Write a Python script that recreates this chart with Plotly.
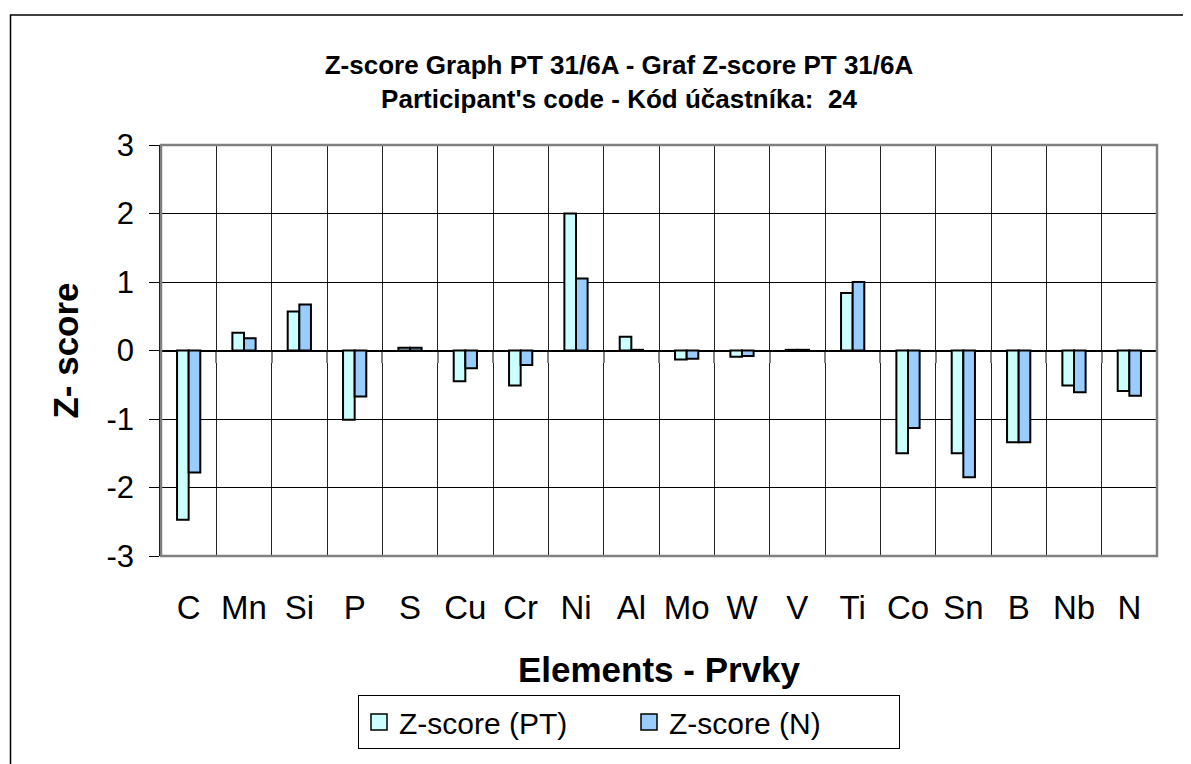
import plotly.graph_objects as go

elements = ["C", "Mn", "Si", "P", "S", "Cu", "Cr", "Ni", "Al", "Mo", "W", "V",
            "Ti", "Co", "Sn", "B", "Nb", "N"]
z_pt = [-2.47, 0.26, 0.57, -1.01, 0.04, -0.45, -0.51, 2.00, 0.20, -0.13, -0.09, 0.01,
        0.84, -1.50, -1.50, -1.34, -0.51, -0.59]
z_n = [-1.78, 0.18, 0.67, -0.67, 0.04, -0.26, -0.21, 1.05, 0.01, -0.12, -0.08, 0.01,
       1.00, -1.13, -1.85, -1.34, -0.61, -0.66]
series_names = ["Z-score (PT)", "Z-score (N)"]
colors = ["#CCFFFF", "#99CCFF"]
y_ticks = [-3, -2, -1, 0, 1, 2, 3]
y_ticktext = ["-3", "-2", "-1", "0", "1", "2", "3"]

FONT = "Liberation Sans, Arial, sans-serif"
OFF = 8  # page body margin
W, H = 1191 - OFF, 764 - OFF
PL, PR, PT_, PB = 161, 1157, 145, 556  # plot area in page pixels
L, R, T, B = PL - OFF, W - (PR - OFF), PT_ - OFF, H - (PB - OFF)
pw, ph = PR - PL, PB - PT_

def px_x(p):
    return (p - PL) / pw

def px_y(p):
    return (PB - p) / ph

fig = go.Figure()
for name, vals, col in zip(series_names, [z_pt, z_n], colors):
    fig.add_trace(go.Bar(x=elements, y=vals, name=name, showlegend=False,
                         marker=dict(color=col, line=dict(color="black", width=2))))
# legend entries (square symbols)
for name, col in zip(series_names, colors):
    fig.add_trace(go.Scatter(x=elements, y=[None] * len(elements), name=name,
                             mode="markers", xaxis="x2",
                             marker=dict(symbol="square", size=17, color=col,
                                         line=dict(color="black", width=1.5))))

fig.update_layout(
    width=W, height=H,
    margin=dict(l=L, r=R, t=T, b=B, autoexpand=False),
    paper_bgcolor="white", plot_bgcolor="white",
    font=dict(family=FONT, color="black"),
    barmode="group", bargap=0.58, bargroupgap=0,
    title=dict(text="Z-score Graph PT 31/6A - Graf Z-score PT 31/6A<br>Participant's code - Kód účastníka:  24",
               font=dict(size=26, weight="bold", family=FONT),
               x=(619 - OFF) / W, xanchor="center", xref="container",
               y=1 - (74 - OFF) / H, yanchor="top", yref="container"),
    xaxis=dict(type="category", categoryorder="array", categoryarray=elements,
               range=[-0.5, len(elements) - 0.5],
               tickson="boundaries", showgrid=True, gridcolor="#222222", gridwidth=1,
               ticks="", showline=False, tickfont=dict(size=33),
               ticklabelstandoff=29,
               title=dict(text="Elements - Prvky", font=dict(size=35, weight="bold"),
                          standoff=32)),
    xaxis2=dict(type="category", categoryorder="array", categoryarray=elements,
                range=[-0.5, len(elements) - 0.5], overlaying="x", anchor="free",
                position=0.5, side="bottom", tickson="boundaries", ticks="outside",
                ticklen=11, tickcolor="#808080", tickwidth=1.5, showticklabels=False,
                showgrid=False, showline=False, zeroline=False),
    yaxis=dict(range=[-3, 3], tickmode="array", tickvals=y_ticks, ticktext=y_ticktext,
               showgrid=True, gridcolor="black",
               gridwidth=1, zeroline=True, zerolinecolor="black", zerolinewidth=1.5,
               showline=True, linecolor="black", linewidth=1.5,
               ticks="outside", ticklen=10, tickcolor="black", tickwidth=1,
               tickfont=dict(size=31), ticklabelstandoff=9,
               title=dict(text="Z- score", font=dict(size=35, weight="bold"),
                          standoff=17)),
    legend=dict(orientation="h", x=px_x(358), xanchor="left",
                y=px_y(695), yanchor="top", bordercolor="black", borderwidth=1,
                font=dict(size=30), bgcolor="white",
                entrywidth=225, entrywidthmode="pixels", itemwidth=30),
    shapes=[
        dict(type="rect", xref="paper", yref="paper", x0=0, x1=1, y0=0, y1=1,
             line=dict(color="#808080", width=2.5), layer="above"),
        dict(type="rect", xref="paper", yref="paper", x0=px_x(10.5), x1=px_x(1200),
             y0=px_y(780), y1=px_y(15), line=dict(color="black", width=1.5)),
    ],
)
fig.write_html("out.html")
